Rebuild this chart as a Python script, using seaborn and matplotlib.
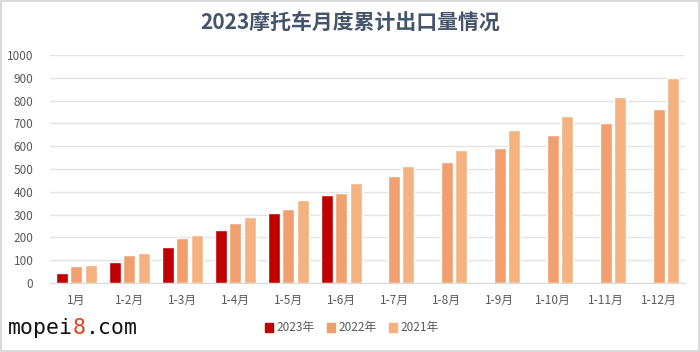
import pandas as pd
import numpy as np
import seaborn as sns
import matplotlib.pyplot as plt
from matplotlib.offsetbox import TextArea, HPacker, AnchoredOffsetbox

periods = ['1月', '1-2月', '1-3月', '1-4月', '1-5月', '1-6月',
           '1-7月', '1-8月', '1-9月', '1-10月', '1-11月', '1-12月']
years = ['2023年', '2022年', '2021年']
v2023 = [44, 92, 158, 231, 308, 387, np.nan, np.nan, np.nan, np.nan, np.nan, np.nan]
v2022 = [76, 125, 199, 261, 325, 395, 469, 529, 590, 647, 702, 765]
v2021 = [80, 132, 212, 289, 365, 440, 511, 583, 671, 734, 814, 897]
colors = ['#C00000', '#EFA06E', '#F3B27F']

df = pd.DataFrame({
    'period': periods * 3,
    'year': [y for y in years for _ in periods],
    'value': v2023 + v2022 + v2021,
})

sns.set_style("white")
plt.rcParams['font.family'] = ['Noto Sans CJK SC', 'DejaVu Sans']

fig = plt.figure(figsize=(7, 3.52), dpi=100)
fig.patch.set_edgecolor('#d9d9d9')
fig.patch.set_linewidth(1.5)
ax = fig.add_axes([50 / 700, 1 - 283 / 352, 635 / 700, 228 / 352])

sns.barplot(data=df, x='period', y='value', hue='year', order=periods, hue_order=years,
            palette=colors, width=0.82, gap=0.17, saturation=1, ax=ax, legend=False)

ax.set_ylim(0, 1000)
ax.set_yticks(range(0, 1001, 100))
ax.set_xlim(-0.5, 11.5)
ax.yaxis.grid(True, color='#e3e3e3', linewidth=1)
ax.set_axisbelow(True)
for s in ['top', 'right', 'left']:
    ax.spines[s].set_visible(False)
ax.spines['bottom'].set_color('#d9d9d9')
ax.tick_params(axis='both', length=0, labelsize=8.5, colors='#595959')
ax.tick_params(axis='x', pad=8)
ax.tick_params(axis='y', pad=12)
ax.set_xlabel('')
ax.set_ylabel('')

fig.text(0.5, 1 - 22 / 352, '2023摩托车月度累计出口量情况', ha='center', va='center',
         fontsize=15, fontweight='bold', color='#44546A')

handles = [plt.Rectangle((0, 0), 1, 1, color=c) for c in colors]
fig.legend(handles, years, loc='center', bbox_to_anchor=(352 / 700, 1 - 328 / 352), ncol=3,
           frameon=False, fontsize=8.5, handlelength=0.7, handleheight=0.7,
           handletextpad=0.3, columnspacing=1.0, labelcolor='#595959')

# watermark
wm_props = dict(fontsize=15.5, family='DejaVu Sans Mono')
parts = [TextArea('mopei', textprops=dict(color='#111111', **wm_props)),
         TextArea('8', textprops=dict(color='#E8401C', **wm_props)),
         TextArea('.com', textprops=dict(color='#111111', **wm_props))]
wm = AnchoredOffsetbox(loc='center left', child=HPacker(children=parts, pad=0, sep=0),
                       frameon=False, bbox_to_anchor=(8 / 700, 1 - 328 / 352),
                       bbox_transform=fig.transFigure, pad=0, borderpad=0)
fig.add_artist(wm)

fig.savefig('out.png', dpi=100)
